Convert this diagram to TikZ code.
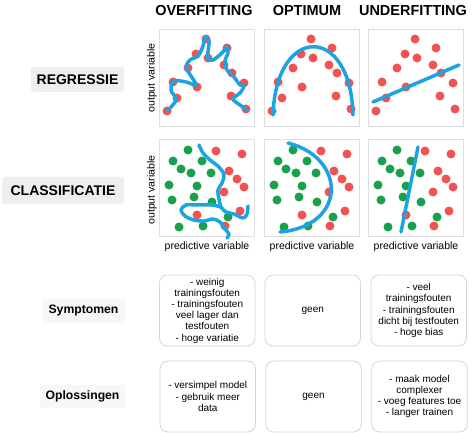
\documentclass[tikz,border=0pt]{standalone}
\usepackage{fontspec}
\setmainfont{Liberation Sans}
\definecolor{dred}{RGB}{241,82,82}
\definecolor{dgreen}{RGB}{24,160,76}
\definecolor{dblue}{RGB}{28,163,224}
\definecolor{pborder}{RGB}{222,222,222}
\definecolor{bborder}{RGB}{214,214,214}
\definecolor{labfill}{RGB}{238,238,238}
\definecolor{labfillb}{RGB}{247,247,247}
\begin{document}
\begin{tikzpicture}[x=1pt,y=-1pt,
  panel/.style={draw=pborder, line width=0.9pt, fill=white, minimum width=95pt, minimum height=97pt, inner sep=0pt},
  header/.style={font=\fontsize{14.5}{17}\selectfont\bfseries, inner sep=0pt},
  rowlab/.style={font=\fontsize{14}{16}\selectfont\bfseries, fill=labfill, rounded corners=3pt, inner sep=0pt},
  sublab/.style={font=\fontsize{12.2}{14}\selectfont\bfseries, fill=labfillb, inner sep=0pt},
  axlab/.style={font=\fontsize{10.5}{12}\selectfont, inner sep=0pt},
  infobox/.style={draw=bborder, line width=0.8pt, rounded corners=8pt, minimum width=95.5pt, minimum height=71pt, align=center, inner sep=0pt, font=\fontsize{10}{11.2}\selectfont},
  fitline/.style={draw=dblue, line width=3.5pt, line cap=round, line join=round},
  rdot/.style={fill=dred},
  gdot/.style={fill=dgreen}
]
\useasboundingbox (0,0) rectangle (474,433);
\fill[white] (0,0) rectangle (474,433);

% headers
\node[header] (h1) at (204,10.5) {OVERFITTING};
\node[header] (h2) at (307,10.5) {OPTIMUM};
\node[header] (h3) at (413,10.5) {UNDERFITTING};

% row labels
\node[rowlab, minimum width=93pt, minimum height=25pt] (reg) at (77.5,79.3) {REGRESSIE};
\node[rowlab, minimum width=122pt, minimum height=27pt] (cls) at (63,190.5) {CLASSIFICATIE};
\node[sublab, minimum width=83pt, minimum height=24pt] (sym) at (83.5,311) {Symptomen};
\node[sublab, minimum width=85pt, minimum height=23pt] (opl) at (82.5,396.5) {Oplossingen};

% panels
\node[panel] (p11) at (206.5,77.5) {};
\node[panel] (p12) at (311.5,77.5) {};
\node[panel] (p13) at (415.5,77.5) {};
\node[panel] (p21) at (206.5,188) {};
\node[panel] (p22) at (311.5,188) {};
\node[panel] (p23) at (415.5,188) {};

% axis labels
\node[axlab, rotate=90] (ov1) at (152,78) {output variable};
\node[axlab, rotate=90] (ov2) at (152,190) {output variable};
\node[axlab] (pv1) at (207,247) {predictive variable};
\node[axlab] (pv2) at (312,247) {predictive variable};
\node[axlab] (pv3) at (416,247) {predictive variable};

% regression dots (same layout in each panel)
\foreach \dx in {-105,0,104}{
  \begin{scope}[xshift=\dx pt]
  \foreach \p in {(272,111),(278,82),(282,98),(293,68),(302,87),(301,54),(311,39),(313,58),(332,48),(329,65),(337,73),(349,83),(336,96),(351,109)}
    \fill[rdot] \p circle (4.5pt);
  \end{scope}
}
% classification dots
\foreach \dx in {-105,0,104}{
  \begin{scope}[xshift=\dx pt]
  \foreach \p in {(293,150),(278,161),(307,161),(286,169),(296,173),(316,173),(274,185),(302,186),(277,200),(299,197),(317,202),(333,217),(284,227),(308,226)}
    \fill[gdot] \p circle (4.5pt);
  \foreach \p in {(321,151),(347,154),(334,171),(342,179),(349,187),(329,192),(302,215),(345,211),(330,226)}
    \fill[rdot] \p circle (4.5pt);
  \end{scope}
}

% fit curves: regression
\draw[fitline] plot[smooth, tension=0.55] coordinates {(167,111) (176,100) (171,90) (174,81) (186,82) (196,85) (191,76) (186,67) (190,60) (198,56) (203,46) (205,37) (209,41) (208,52) (208,59) (213,60) (222,53) (227,47) (228,53) (225,61) (227,70) (234,77) (240,85) (244,86) (240,93) (233,99) (240,105) (247,110)};
\draw[fitline] (273,115) .. controls (276,24) and (351,24) .. (353,115);
\coordinate (u1) at (373,102);
\coordinate (u2) at (459,65);
\draw[fitline] (u1) -- (u2);

% fit curves: classification
\draw[fitline] plot[smooth, tension=0.55] coordinates {(199,145) (203,153) (210,160) (219,167) (224,175) (222,183) (218,190) (219,199) (221,207) (226,212) (234,214) (243,218) (247,214) (248,206)};
\draw[fitline] plot[smooth, tension=0.55] coordinates {(221,207) (212,205) (198,205) (186,205) (181,210) (185,216) (194,220) (204,221) (213,219) (220,222) (225,229) (229,234) (227,238)};
\draw[fitline] (288,143) .. controls (347,158) and (347,226) .. (280,232);
\coordinate (c1) at (418,147);
\coordinate (c2) at (401,232);
\draw[fitline] (c1) -- (c2);

% info boxes
\node[infobox] (s1) at (207.25,310.5) {- weinig\\trainingsfouten\\- trainingsfouten\\veel lager dan\\testfouten\\- hoge variatie};
\node[infobox] (s2) at (312.75,310.5) {geen};
\node[infobox] (s3) at (418.75,310.5) {- veel\\trainingsfouten\\- trainingsfouten\\dicht bij testfouten\\- hoge bias};
\node[infobox] (o1) at (207.75,396.5) {- versimpel model\\- gebruik meer\\data};
\node[infobox] (o2) at (313.5,396.5) {geen};
\node[infobox] (o3) at (419.5,396.5) {- maak model\\complexer\\- voeg features toe\\- langer trainen};
\end{tikzpicture}
\end{document}
